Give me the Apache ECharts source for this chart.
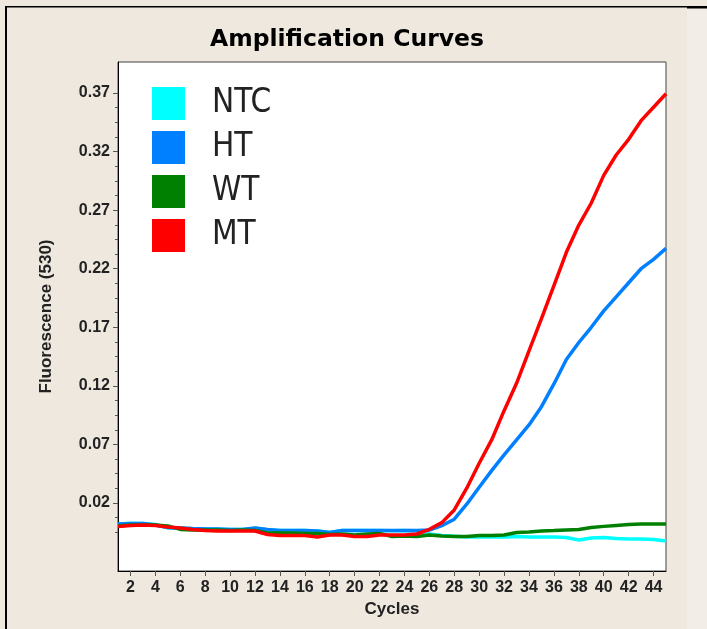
<!DOCTYPE html>
<html>
<head>
<meta charset="utf-8">
<script src="https://cdn.jsdelivr.net/npm/echarts@6/dist/echarts.min.js"></script>
<style>html,body{margin:0;padding:0;background:#EEE8DF;}#c{width:707px;height:629px;}</style>
</head>
<body>
<div id="c"></div>
<script>
const cycles = [1,2,3,4,5,6,7,8,9,10,11,12,13,14,15,16,17,18,19,20,21,22,23,24,25,26,27,28,29,30,31,32,33,34,35,36,37,38,39,40,41,42,43,44,45];
const seriesNames = ['NTC','HT','WT','MT'];
const ntc = [0.0021,0.0025,0.0025,0.0016,-0.0013,-0.0016,-0.0020,-0.0022,-0.0024,-0.0026,-0.0027,-0.0016,-0.0028,-0.0035,-0.0036,-0.0036,-0.0040,-0.0052,-0.0036,-0.0036,-0.0035,-0.0036,-0.0037,-0.0036,-0.0038,-0.0065,-0.0078,-0.0084,-0.0090,-0.0090,-0.0090,-0.0090,-0.0086,-0.0090,-0.0090,-0.0090,-0.0095,-0.0116,-0.0099,-0.0095,-0.0103,-0.0107,-0.0107,-0.0112,-0.0124];
const ht = [0.0021,0.0025,0.0025,0.0012,-0.0009,-0.0013,-0.0018,-0.0022,-0.0022,-0.0026,-0.0026,-0.0013,-0.0026,-0.0035,-0.0035,-0.0035,-0.0039,-0.0052,-0.0035,-0.0035,-0.0035,-0.0035,-0.0035,-0.0035,-0.0035,-0.0031,0.0006,0.0061,0.0189,0.0334,0.0476,0.0610,0.0738,0.0866,0.1022,0.1216,0.1425,0.1570,0.1700,0.1840,0.1960,0.2080,0.2200,0.2280,0.2374];
const wt = [0.0004,0.0012,0.0012,0.0012,0.0004,-0.0026,-0.0030,-0.0030,-0.0030,-0.0035,-0.0030,-0.0035,-0.0056,-0.0056,-0.0056,-0.0060,-0.0060,-0.0069,-0.0065,-0.0073,-0.0065,-0.0060,-0.0086,-0.0082,-0.0086,-0.0073,-0.0082,-0.0086,-0.0086,-0.0077,-0.0077,-0.0073,-0.0052,-0.0048,-0.0039,-0.0035,-0.0030,-0.0026,-0.0009,0.0000,0.0008,0.0016,0.0021,0.0021,0.0021];
const mt = [-0.0002,0.0008,0.0012,0.0008,-0.0005,-0.0013,-0.0026,-0.0035,-0.0039,-0.0039,-0.0039,-0.0039,-0.0069,-0.0077,-0.0077,-0.0077,-0.0090,-0.0073,-0.0073,-0.0086,-0.0086,-0.0073,-0.0073,-0.0073,-0.0065,-0.0025,0.0032,0.0140,0.0326,0.0539,0.0738,0.0988,0.1222,0.1498,0.1773,0.2055,0.2340,0.2573,0.2761,0.2997,0.3171,0.3305,0.3464,0.3579,0.3694];
const yMajorTicks = [0.02,0.07,0.12,0.17,0.22,0.27,0.32,0.37];
const yMinorTicks = [-0.005,0.0075,0.0325,0.045,0.0575,0.0825,0.095,0.1075,0.1325,0.145,0.1575,0.1825,0.195,0.2075,0.2325,0.245,0.2575,0.2825,0.295,0.3075,0.3325,0.345,0.3575];
const xTicks = [2,4,6,8,10,12,14,16,18,20,22,24,26,28,30,32,34,36,38,40,42,44];
const colors = ['#00FFFF','#0080FF','#008000','#FF0000'];
const values = [ntc, ht, wt, mt];

const chart = echarts.init(document.getElementById('c'), null, {renderer:'canvas'});
const tickFont = {fontFamily:'"Liberation Sans", Arial, sans-serif', fontWeight:'bold', fontSize:16, color:'#222'};
const option = {
  animation:false,
  backgroundColor:'#EEE8DF',
  title:{
    text:'Amplification Curves', left:210, top:28, padding:0,
    textStyle:{fontFamily:'"DejaVu Sans", Verdana, sans-serif', fontWeight:'bold', fontSize:23.5, color:'#000'}
  },
  legend:{
    data:seriesNames, orient:'vertical', left:152, top:87, padding:0, itemWidth:33, itemHeight:33, itemGap:11,
    icon:'rect', selectedMode:false,
    textStyle:{fontFamily:'"Liberation Sans Narrow", "DejaVu Sans Condensed", "Liberation Sans", sans-serif', fontSize:33, color:'#222', lineHeight:33, padding:[0,0,0,22]}
  },
  grid:{left:118, top:62, right:41, bottom:58, show:true, backgroundColor:'#fff', borderColor:'#444', borderWidth:1},
  xAxis:{
    type:'value', min:1, max:45,
    name:'Cycles', nameLocation:'middle', nameGap:30,
    nameTextStyle:{fontFamily:'"Liberation Sans", Arial, sans-serif', fontWeight:'bold', fontSize:17, color:'#222'},
    axisLine:{show:true, onZero:false, lineStyle:{color:'#000', width:1}},
    axisTick:{show:true, length:5, customValues:xTicks, lineStyle:{color:'#555'}},
    axisLabel:Object.assign({customValues:xTicks, margin:9}, tickFont),
    splitLine:{show:false}
  },
  yAxis:[{
    type:'value', min:-0.0381, max:0.3965,
    name:'Fluorescence (530)', nameLocation:'middle', nameGap:63,
    nameTextStyle:{fontFamily:'"Liberation Sans", Arial, sans-serif', fontWeight:'bold', fontSize:17, color:'#222'},
    axisLine:{show:true, onZero:false, lineStyle:{color:'#000', width:1}},
    axisTick:{show:true, length:5, customValues:yMajorTicks, lineStyle:{color:'#555'}},
    axisLabel:Object.assign({customValues:yMajorTicks, margin:8, formatter:v=>v.toFixed(2)}, tickFont),
    splitLine:{show:false}
  },{
    type:'value', min:-0.0381, max:0.3965, position:'left',
    axisLine:{show:false, onZero:false},
    axisTick:{show:true, length:3, customValues:yMinorTicks, lineStyle:{color:'#555'}},
    axisLabel:{show:false},
    splitLine:{show:false}
  }],
  series:seriesNames.map((n,i)=>({
    name:n, type:'line', yAxisIndex:0, showSymbol:false, symbol:'none',
    data:cycles.map((c,j)=>[c, values[i][j]]),
    lineStyle:{color:colors[i], width:3.5}, itemStyle:{color:colors[i]}
  })),
  graphic:[
    {type:'rect', shape:{x:687,y:8,width:20,height:621}, style:{fill:'#F2EEE7'}, z:-1},
    {type:'rect', shape:{x:5,y:6,width:682,height:1.5}, style:{fill:'#000'}},
    {type:'rect', shape:{x:687,y:6,width:20,height:2.5}, style:{fill:'#000'}},
    {type:'rect', shape:{x:5,y:6,width:2,height:623}, style:{fill:'#000'}}
  ]
};
chart.setOption(option);
</script>
</body>
</html>
